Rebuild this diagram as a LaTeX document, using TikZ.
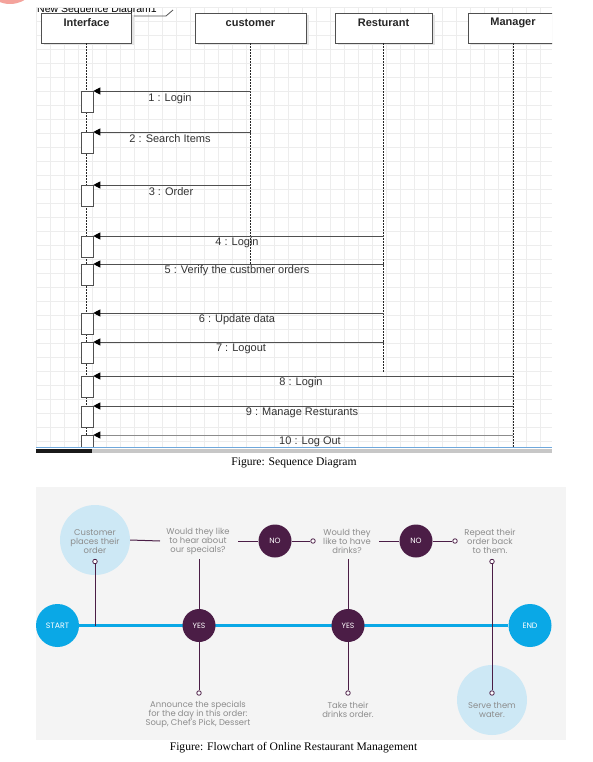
\documentclass[tikz,border=0pt]{standalone}
\usepackage{fontspec}
\setmainfont{Liberation Serif}
\newfontfamily\seqfont{Liberation Sans}
\newfontfamily\popfont{Poppins}
\usetikzlibrary{arrows.meta,shadows}
\definecolor{plum}{HTML}{4B1D46}
\definecolor{cyanline}{HTML}{0AA8E6}
\definecolor{paleblue}{HTML}{CDE8F5}
\definecolor{panelbg}{HTML}{F4F4F4}
\definecolor{txtgray}{HTML}{8C8C8C}
\definecolor{gridc}{HTML}{EDEDED}
\definecolor{seqline}{HTML}{505050}
\definecolor{selblue}{HTML}{6FA8DC}
\definecolor{salmon}{HTML}{F4A39C}
\begin{document}
\begin{tikzpicture}[x=1pt,y=-1pt,
  hdr/.style={draw=seqline, line width=0.8pt, fill=white, minimum height=30pt, inner sep=0pt,
    drop shadow={shadow xshift=2.5pt, shadow yshift=-2.5pt, fill=black!10, opacity=1}},
  hdrtext/.style={font=\seqfont\bfseries\fontsize{11}{13}\selectfont, text=black!85, inner sep=0pt},
  act/.style={draw=seqline, line width=0.8pt, fill=white, minimum width=12pt, minimum height=21pt, inner sep=0pt, anchor=north west},
  msg/.style={draw=seqline, line width=0.9pt, -{Triangle[length=7pt,width=7pt,color=black]}},
  mlabel/.style={font=\seqfont\fontsize{11}{13}\selectfont, text=black!80, inner sep=0pt},
  life/.style={draw=black!85, line width=0.8pt, dash pattern=on 1.5pt off 1.5pt},
  bigc/.style={circle, inner sep=0pt, fill=cyanline, minimum size=43pt, text=white, font=\popfont\fontsize{7.8}{8}\selectfont},
  plumc/.style={circle, inner sep=0pt, fill=plum, minimum size=33pt, text=white, font=\popfont\fontsize{7.6}{8}\selectfont},
  palec/.style={circle, inner sep=0pt, fill=paleblue, minimum size=70pt},
  ftext/.style={align=center, text=txtgray, font=\popfont\fontsize{8.4}{9}\selectfont, inner xsep=5pt, inner ysep=3pt},
  fline/.style={draw=plum, line width=1pt},
  marker/.style={circle, draw=plum, fill=white, line width=0.8pt, minimum size=4.5pt, inner sep=0pt},
  caption/.style={font=\fontsize{11.6}{13}\selectfont, text=black, inner sep=0pt}
]
\useasboundingbox (0,0) rectangle (592,762);
\fill[white] (0,0) rectangle (592,762);
% ---------------- Sequence diagram ----------------
\fill[salmon] (10,-25) circle (29);
\foreach \k in {0,...,36} \draw[gridc, line width=0.6pt] ({36.7+14*\k},8) -- ({36.7+14*\k},447);
\foreach \k in {0,...,31} \draw[gridc, line width=0.6pt] (36,{7+14*\k}) -- (552,{7+14*\k});
\begin{scope}
  \clip (36,8.5) rectangle (200,20);
  \node[anchor=base west, font=\seqfont\fontsize{10.5}{12}\selectfont, inner sep=0pt] (frame) at (37,12.5) {New Sequence Diagram1};
\end{scope}
\draw[seqline, line width=0.8pt] (131,16) -- (166,16) -- (173,10);
% lifeline heads
\node[hdr, minimum width=90pt] (ifc) at (86.5,28) {};
\node[hdr, minimum width=111pt] (cust) at (250.5,28) {};
\node[hdr, minimum width=97pt] (rest) at (383.5,28) {};
\begin{scope}
  \clip (400,0) rectangle (552,60);
  \node[hdr, minimum width=90pt] (mgr) at (513,28) {};
\end{scope}
\node[hdrtext] (ifcL) at (86.5,22.5) {Interface};
\node[hdrtext] (custL) at (250.5,22.5) {customer};
\node[hdrtext] (restL) at (383.5,22.5) {Resturant};
\node[hdrtext] (mgrL) at (513,22.5) {Manager};
% lifelines
\coordinate (ifcEnd) at (86.5,448);
\coordinate (custEnd) at (250.5,265);
\coordinate (restEnd) at (383.5,373);
\coordinate (mgrEnd) at (513,448);
\draw[life] (ifc.south) -- (ifcEnd);
\draw[life] (cust.south) -- (custEnd);
\draw[life] (rest.south) -- (restEnd);
\draw[life] (mgr.south) -- (mgrEnd);
% activation boxes
\node[act] (a1) at (80.5,91) {};
\node[act] (a2) at (80.5,132) {};
\node[act] (a3) at (80.5,185) {};
\node[act] (a4) at (80.5,236) {};
\node[act] (a5) at (80.5,264) {};
\node[act] (a6) at (80.5,313) {};
\node[act] (a7) at (80.5,342) {};
\node[act] (a8) at (80.5,376) {};
\node[act] (a9) at (80.5,406) {};
\node[act, minimum height=13pt] (a10) at (80.5,435) {};
% messages
\draw[msg] (cust |- a1.north east) -- (a1.north east);
\draw[msg] (cust |- a2.north east) -- (a2.north east);
\draw[msg] (cust |- a3.north east) -- (a3.north east);
\draw[msg] (rest |- a4.north east) -- (a4.north east);
\draw[msg] (rest |- a5.north east) -- (a5.north east);
\draw[msg] (rest |- a6.north east) -- (a6.north east);
\draw[msg] (rest |- a7.north east) -- (a7.north east);
\draw[msg] (mgr |- a8.north east) -- (a8.north east);
\draw[msg] (mgr |- a9.north east) -- (a9.north east);
\draw[msg, draw=black!45] (mgr |- a10.north east) -- (a10.north east);
\node[mlabel] (l1) at (170,98.5) {1 : Login};
\node[mlabel] (l2) at (170,139) {2 : Search Items};
\node[mlabel] (l3) at (171,191.5) {3 : Order};
\node[mlabel] (l4) at (237,243) {4 : Login};
\node[mlabel] (l5) at (237,271) {5 : Verify the custbmer orders};
\node[mlabel] (l6) at (237,320) {6 : Update data};
\node[mlabel] (l7) at (241,348.5) {7 : Logout};
\node[mlabel] (l8) at (301,382.5) {8 : Login};
\node[mlabel] (l9) at (302,412.5) {9 : Manage Resturants};
\node[mlabel] (l10) at (310,441.5) {10 : Log Out};
% bottom edge
\fill[white] (36,448) rectangle (552,454);
\draw[selblue, line width=0.8pt] (36,447.6) -- (552,447.6);
\fill[black!22] (92,449) rectangle (552,453);
\fill[black!90] (36,449) rectangle (92,453);
\node[caption] (cap1) at (294,462.5) {Figure: Sequence Diagram};
% ---------------- Flowchart ----------------
\fill[panelbg] (36,487) rectangle (566,740);
\node[palec] (custc) at (95,540) {};
\node[palec] (water) at (492,700) {};
\node[bigc] (start) at (57.5,625.5) {START};
\node[bigc] (endc) at (530,625.5) {END};
\draw[cyanline, line width=3.6pt] (start.east) -- (endc.west);
\node[ftext] (custt) at (95,541.5) {Customer\\places their\\order};
\node[ftext] (q1) at (198,541.5) {Would they like\\to hear about\\our specials?};
\node[ftext] (q2) at (347,541.5) {Would they\\like to have\\drinks?};
\node[ftext] (q3) at (490,541.5) {Repeat their\\order back\\to them.};
\node[ftext] (t1) at (198,714) {Announce the specials\\for the day in this order:\\Soup, Chef's Pick, Dessert};
\node[ftext] (t2) at (348,709.5) {Take their\\drinks order.};
\node[ftext] (t3) at (492,709.5) {Serve them\\water.};
\node[plumc] (no1) at (275,541) {NO};
\node[plumc] (no2) at (416,541) {NO};
\node[plumc] (yes1) at (199,625.5) {YES};
\node[plumc] (yes2) at (348,625.5) {YES};
\node[marker] (m0) at (95,561.5) {};
\node[marker] (m1) at (313,541) {};
\node[marker] (m2) at (455,541) {};
\node[marker] (m3) at (492,561.5) {};
\node[marker] (m4) at (492,693) {};
\node[marker] (m5) at (199,693) {};
\node[marker] (m6) at (348,693) {};
\coordinate (q1in) at (160,541);
\coordinate (q1out) at (238,541);
\coordinate (q2out) at (379,541);
\coordinate (q1bot) at (199,559);
\coordinate (q2bot) at (348,559);
\draw[fline] (m0) -- (m0 |- start);
\draw[fline] (custc.east) -- (q1in);
\draw[fline] (q1out) -- (no1.west);
\draw[fline] (no1.east) -- (m1);
\draw[fline] (q2out) -- (no2.west);
\draw[fline] (no2.east) -- (m2);
\draw[fline] (q1bot) -- (yes1.north);
\draw[fline] (yes1.south) -- (m5);
\draw[fline] (q2bot) -- (yes2.north);
\draw[fline] (yes2.south) -- (m6);
\draw[fline] (m3) -- (m4);
\node[caption] (cap2) at (293.5,748) {Figure: Flowchart of Online Restaurant Management};
\end{tikzpicture}
\end{document}
